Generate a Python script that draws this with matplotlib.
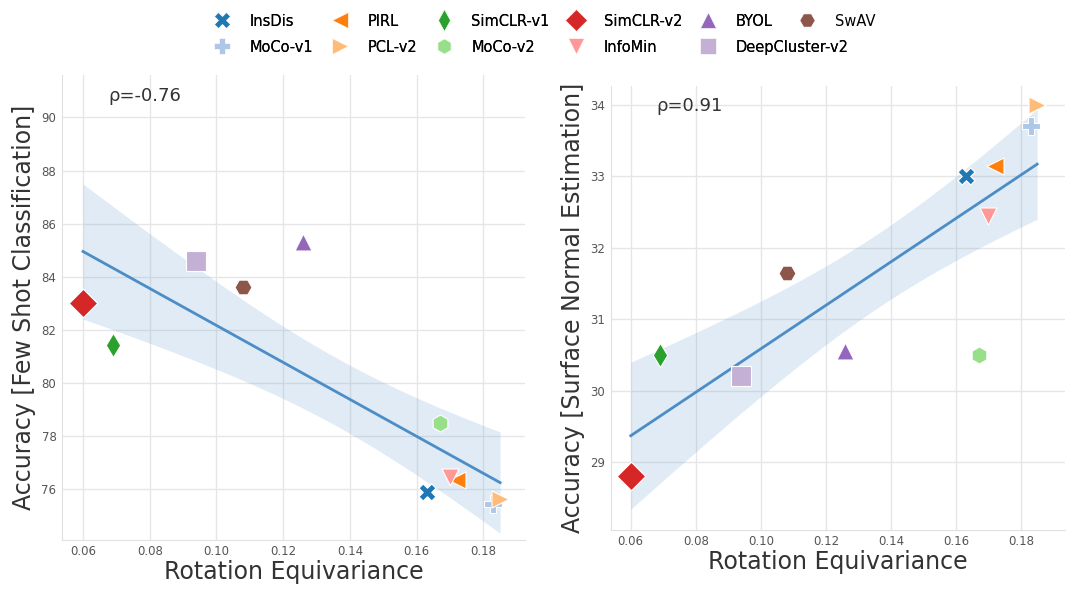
import numpy as np
import matplotlib
matplotlib.use("Agg")
import matplotlib.pyplot as plt
from matplotlib.lines import Line2D

methods = ["InsDis", "MoCo-v1", "PIRL", "PCL-v2", "SimCLR-v1", "MoCo-v2",
           "SimCLR-v2", "InfoMin", "BYOL", "DeepCluster-v2", "SwAV"]
rot_equiv = [0.163, 0.183, 0.172, 0.185, 0.069, 0.167, 0.060, 0.170, 0.126, 0.094, 0.108]
few_shot = [75.9, 75.45, 76.35, 75.65, 81.45, 78.5, 83.0, 76.45, 85.3, 84.6, 83.6]
surf_normal = [33.0, 33.7, 33.15, 34.0, 30.5, 30.5, 28.8, 32.45, 30.55, 30.2, 31.65]
rho_labels = ["ρ=-0.76", "ρ=0.91"]

colors = ["#1f77b4", "#aec7e8", "#ff7f0e", "#ffbb78", "#2ca02c", "#98df8a",
          "#d62728", "#ff9896", "#9467bd", "#c5b0d5", "#8c564b"]
markers = ["X", "P", "<", ">", "d", "h", "D", "v", "^", "s", "H"]
sizes = [150, 150, 150, 150, 150, 150, 210, 150, 150, 190, 150]

def reg_ci(x, y, grid):
    x = np.asarray(x); y = np.asarray(y)
    n = len(x)
    b, a = np.polyfit(x, y, 1)
    yhat = a + b * grid
    resid = y - (a + b * x)
    s = np.sqrt(np.sum(resid ** 2) / (n - 2))
    xm = x.mean()
    sxx = np.sum((x - xm) ** 2)
    se = s * np.sqrt(1.0 / n + (grid - xm) ** 2 / sxx)
    k = 1.96 * np.sqrt((n - 2) / n)
    return yhat, yhat - k * se, yhat + k * se

fig = plt.figure(figsize=(10.68, 5.9), dpi=100)
ax1 = fig.add_axes([0.058, 0.085, 0.434, 0.788])
ax2 = fig.add_axes([0.572, 0.102, 0.425, 0.753])

def draw(ax, y, ylabel, rho, xlim, ylim, yticks):
    grid = np.linspace(min(rot_equiv), max(rot_equiv), 100)
    yhat, lo, hi = reg_ci(rot_equiv, y, grid)
    ax.fill_between(grid, lo, hi, color="#4c8dc7", alpha=0.17, lw=0, zorder=1)
    ax.plot(grid, yhat, color="#4c8dc7", lw=2, zorder=2)
    for xi, yi, c, m, s in zip(rot_equiv, y, colors, markers, sizes):
        ax.scatter(xi, yi, color=c, marker=m, s=s, edgecolor="white", linewidth=0.8, zorder=3)
    ax.set_xlim(*xlim)
    ax.set_ylim(*ylim)
    ax.set_xticks([0.06, 0.08, 0.10, 0.12, 0.14, 0.16, 0.18])
    ax.set_yticks(yticks)
    ax.grid(True, color="#e6e6e6", lw=1)
    ax.set_axisbelow(True)
    for sp in ["top", "right"]:
        ax.spines[sp].set_visible(False)
    for sp in ["left", "bottom"]:
        ax.spines[sp].set_color("#e0e0e0")
    ax.tick_params(axis="both", labelsize=8.5, colors="#555555", length=0, pad=4)
    ax.set_xlabel("Rotation Equivariance", fontsize=17, color="#333333", labelpad=1)
    ax.set_ylabel(ylabel, fontsize=17, color="#333333", labelpad=4)
    ax.text(0.10, 0.955, rho, transform=ax.transAxes, fontsize=13, color="#333333", va="center")

draw(ax1, few_shot, "Accuracy [Few Shot Classification]", rho_labels[0],
     (0.0537, 0.1926), (74.1, 91.6), [76, 78, 80, 82, 84, 86, 88, 90])
draw(ax2, surf_normal, "Accuracy [Surface Normal Estimation]", rho_labels[1],
     (0.0539, 0.1935), (28.05, 34.27), [29, 30, 31, 32, 33, 34])

handles = [Line2D([], [], marker=m, color=c, linestyle="none", markersize=11,
                  markeredgecolor="white", markeredgewidth=0.5)
           for m, c in zip(markers, colors)]
leg_kw = dict(frameon=False, fontsize=10.5, handlelength=1.0, handletextpad=1.4,
              columnspacing=1.3, labelspacing=0.75, borderpad=0, borderaxespad=0,
              loc="upper left")
leg1 = fig.legend(handles[:10], methods[:10], ncol=5,
                  bbox_to_anchor=(0.2013, 0.977), **leg_kw)
fig.add_artist(leg1)
fig.legend(handles[10:], methods[10:], ncol=1,
           bbox_to_anchor=(0.749, 0.977), **leg_kw)

fig.savefig("out.png", dpi=100)
